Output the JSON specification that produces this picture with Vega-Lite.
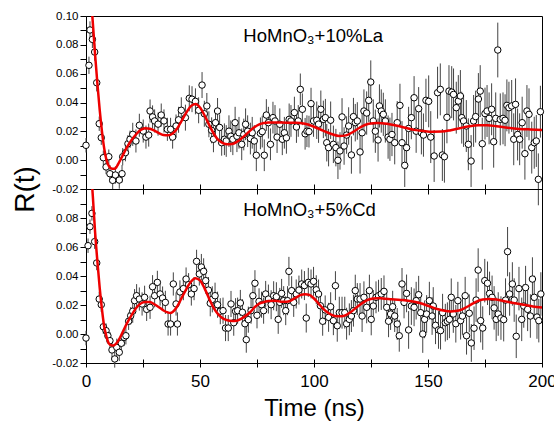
{
  "$schema": "https://vega.github.io/schema/vega-lite/v6.json",
  "padding": {"left": 11, "top": 9, "right": 0, "bottom": 0},
  "background": "white",
  "config": {
    "view": {"stroke": "black", "strokeWidth": 1},
    "font": "Liberation Sans",
    "axis": {
      "labelFont": "Liberation Sans", "titleFont": "Liberation Sans",
      "labelColor": "black", "titleColor": "black", "titleFontWeight": "normal",
      "domainColor": "black", "tickColor": "black", "grid": false,
      "labelFlush": false, "labelOverlap": false
    }
  },
  "datasets": {
    "top": [
      {"t":0,"v":0.0103,"e":0.005},{"t":1.3,"v":0.0658,"e":0.006},{"t":1.75,"v":0.0903,"e":0.006},{"t":2.8,"v":0.0838,"e":0.006},{"t":3.8,"v":0.075,"e":0.006},{"t":4.7,"v":0.0537,"e":0.006},{"t":5.8,"v":0.0253,"e":0.005},{"t":6.7,"v":0.0156,"e":0.005},{"t":7.6,"v":0.0017,"e":0.005},{"t":8.8,"v":-0.0047,"e":0.005},{"t":10,"v":0.0024,"e":0.005},{"t":10.5,"v":-0.0094,"e":0.006},{"t":11.7,"v":-0.014,"e":0.006},{"t":12.9,"v":-0.0103,"e":0.006},{"t":14.6,"v":-0.0138,"e":0.006},{"t":15.8,"v":-0.0094,"e":0.006},{"t":16.1,"v":0.0024,"e":0.006},{"t":17.3,"v":0.0052,"e":0.006},{"t":18.4,"v":0.0114,"e":0.006},{"t":19.3,"v":0.0145,"e":0.006},
      {"t":20.5,"v":0.0179,"e":0.008},{"t":21.9,"v":0.0133,"e":0.008},{"t":23.4,"v":0.0242,"e":0.008},{"t":25.1,"v":0.0202,"e":0.008},{"t":26.3,"v":0.016,"e":0.008},{"t":27.5,"v":0.0174,"e":0.008},{"t":28.1,"v":0.0341,"e":0.008},{"t":29.2,"v":0.03,"e":0.008},{"t":30.1,"v":0.0272,"e":0.008},{"t":31.6,"v":0.025,"e":0.008},{"t":33.0,"v":0.0313,"e":0.008},{"t":34.2,"v":0.0272,"e":0.008},{"t":35.7,"v":0.0214,"e":0.008},{"t":37.1,"v":0.0214,"e":0.008},{"t":38.0,"v":0.016,"e":0.008},{"t":39.5,"v":0.0237,"e":0.008},
      {"t":40.6,"v":0.028,"e":0.009},{"t":41.8,"v":0.0346,"e":0.009},{"t":43.6,"v":0.0295,"e":0.009},{"t":45.3,"v":0.0429,"e":0.009},{"t":46.5,"v":0.0423,"e":0.009},{"t":48,"v":0.0408,"e":0.009},{"t":49.4,"v":0.0346,"e":0.009},{"t":50.9,"v":0.0521,"e":0.009},{"t":51.9,"v":0.0322,"e":0.009},{"t":53,"v":0.0376,"e":0.009},{"t":53.9,"v":0.0249,"e":0.009},{"t":55.1,"v":0.0207,"e":0.009},{"t":55.9,"v":0.0145,"e":0.009},{"t":56.8,"v":0.026,"e":0.009},{"t":57.7,"v":0.0341,"e":0.009},{"t":58.6,"v":0.0227,"e":0.009},{"t":59.5,"v":0.0121,"e":0.009},
      {"t":60.7,"v":0.0145,"e":0.011},{"t":61.5,"v":0.0133,"e":0.011},{"t":62.7,"v":0.0201,"e":0.011},{"t":63.5,"v":0.0166,"e":0.011},{"t":64.4,"v":0.0145,"e":0.011},{"t":65.4,"v":0.026,"e":0.011},{"t":66.2,"v":0.0166,"e":0.011},{"t":67.1,"v":0.019,"e":0.011},{"t":68.3,"v":0.011,"e":0.011},{"t":69.2,"v":0.0178,"e":0.011},{"t":70.0,"v":0.0249,"e":0.011},{"t":70.9,"v":0.0201,"e":0.011},{"t":72.1,"v":0.015,"e":0.011},{"t":72.9,"v":0.019,"e":0.011},{"t":73.8,"v":0.0133,"e":0.011},{"t":74.7,"v":0.0034,"e":0.011},{"t":76.5,"v":0.0186,"e":0.011},{"t":77.3,"v":0.0198,"e":0.011},{"t":78.2,"v":0.0034,"e":0.011},{"t":79.1,"v":0.0313,"e":0.011},
      {"t":80,"v":0.026,"e":0.011},{"t":80.9,"v":0.011,"e":0.011},{"t":82,"v":0.0295,"e":0.011},{"t":82.9,"v":0.0272,"e":0.011},{"t":83.8,"v":0.016,"e":0.011},{"t":85,"v":0.0249,"e":0.011},{"t":86.1,"v":0.0145,"e":0.011},{"t":87.0,"v":0.019,"e":0.011},{"t":87.9,"v":0.0155,"e":0.011},{"t":89.1,"v":0.0283,"e":0.011},{"t":89.9,"v":0.0272,"e":0.011},{"t":91.4,"v":0.033,"e":0.011},{"t":92.3,"v":0.023,"e":0.011},{"t":93.1,"v":0.0272,"e":0.011},{"t":94.0,"v":0.0491,"e":0.011},{"t":94.9,"v":0.0353,"e":0.011},{"t":96.1,"v":0.0183,"e":0.011},{"t":96.9,"v":0.0201,"e":0.011},{"t":97.8,"v":0.0198,"e":0.011},{"t":98.7,"v":0.0392,"e":0.011},{"t":99.8,"v":0.0272,"e":0.011},
      {"t":101.2,"v":0.0277,"e":0.013},{"t":102.0,"v":0.025,"e":0.013},{"t":103.0,"v":0.0353,"e":0.013},{"t":104.1,"v":0.0283,"e":0.013},{"t":105.0,"v":0.0295,"e":0.013},{"t":105.6,"v":0.0121,"e":0.013},{"t":106.4,"v":0.0087,"e":0.013},{"t":107.3,"v":0.0277,"e":0.013},{"t":108.5,"v":0.011,"e":0.013},{"t":109.6,"v":0.0087,"e":0.013},{"t":110.5,"v":-0.0001,"e":0.013},{"t":111.4,"v":0.0064,"e":0.013},{"t":112.3,"v":0.03,"e":0.013},{"t":113.2,"v":0.0098,"e":0.013},{"t":114.3,"v":0.0174,"e":0.013},{"t":115.2,"v":0.0237,"e":0.013},{"t":116.4,"v":0.0036,"e":0.013},{"t":117.3,"v":0.0302,"e":0.013},{"t":118.1,"v":0.026,"e":0.013},{"t":119.0,"v":0.0272,"e":0.013},
      {"t":120.2,"v":0.0057,"e":0.015},{"t":121.1,"v":0.019,"e":0.015},{"t":121.9,"v":0.0341,"e":0.015},{"t":123.1,"v":0.0327,"e":0.015},{"t":124.0,"v":0.0415,"e":0.015},{"t":124.9,"v":0.0542,"e":0.015},{"t":126.0,"v":0.0272,"e":0.015},{"t":126.9,"v":0.0201,"e":0.015},{"t":128.1,"v":0.014,"e":0.015},{"t":128.7,"v":0.0376,"e":0.015},{"t":129.5,"v":0.0341,"e":0.015},{"t":130.4,"v":0.0318,"e":0.015},{"t":131.3,"v":0.0272,"e":0.015},{"t":132.5,"v":0.016,"e":0.015},{"t":133.3,"v":0.0145,"e":0.015},{"t":134.2,"v":0.0178,"e":0.015},{"t":135.4,"v":0.0121,"e":0.015},{"t":136.5,"v":0.026,"e":0.015},{"t":137.7,"v":0.038,"e":0.015},{"t":138.6,"v":0.0121,"e":0.015},
      {"t":139.8,"v":-0.0036,"e":0.015},{"t":140.6,"v":0.0087,"e":0.015},{"t":141.5,"v":0.022,"e":0.015},{"t":142.7,"v":0.0295,"e":0.015},{"t":143.9,"v":0.0433,"e":0.015},{"t":144.8,"v":0.0201,"e":0.015},{"t":145.9,"v":0.0357,"e":0.015},{"t":147.1,"v":0.019,"e":0.015},{"t":148.0,"v":0.0174,"e":0.015},{"t":149.1,"v":0.0415,"e":0.015},
      {"t":150.3,"v":0.0408,"e":0.018},{"t":151.2,"v":0.016,"e":0.018},{"t":152.7,"v":0.0029,"e":0.018},{"t":154.2,"v":0.0468,"e":0.018},{"t":155.4,"v":0.0491,"e":0.018},{"t":156.3,"v":0.0036,"e":0.018},{"t":157.2,"v":0.0024,"e":0.018},{"t":158.3,"v":0.0297,"e":0.018},{"t":159.2,"v":0.0479,"e":0.018},{"t":160.4,"v":0.0472,"e":0.018},{"t":161.2,"v":0.0456,"e":0.018},{"t":162.4,"v":0.0364,"e":0.018},{"t":163.3,"v":0.041,"e":0.018},{"t":164.2,"v":0.0445,"e":0.018},{"t":164.8,"v":0.0295,"e":0.018},{"t":165.6,"v":0.0272,"e":0.018},{"t":166.8,"v":0.0237,"e":0.018},{"t":167.7,"v":0.011,"e":0.018},{"t":168.9,"v":-0.0006,"e":0.018},{"t":170.0,"v":0.0272,"e":0.018},
      {"t":170.9,"v":0.0302,"e":0.018},{"t":172.1,"v":0.0424,"e":0.018},{"t":172.9,"v":0.0479,"e":0.018},{"t":173.8,"v":0.0114,"e":0.018},{"t":175.0,"v":0.0323,"e":0.018},{"t":175.9,"v":0.0341,"e":0.018},{"t":176.8,"v":0.029,"e":0.018},{"t":177.9,"v":0.0353,"e":0.018},{"t":178.8,"v":0.0128,"e":0.018},{"t":179.7,"v":0.029,"e":0.018},{"t":180.6,"v":0.0764,"e":0.019},{"t":181.7,"v":0.0283,"e":0.018},{"t":182.9,"v":0.029,"e":0.018},{"t":183.8,"v":0.0277,"e":0.018},{"t":184.6,"v":0.038,"e":0.018},{"t":185.5,"v":0.0364,"e":0.018},{"t":186.7,"v":0.0376,"e":0.018},{"t":187.6,"v":0.0145,"e":0.018},{"t":188.4,"v":0.0387,"e":0.018},{"t":189.3,"v":0.0178,"e":0.018},
      {"t":190.2,"v":0.0145,"e":0.018},{"t":191.3,"v":0.026,"e":0.018},{"t":192.5,"v":0.0045,"e":0.018},{"t":193.4,"v":0.0341,"e":0.018},{"t":194.3,"v":0.0318,"e":0.018},{"t":195.5,"v":0.0087,"e":0.018},{"t":196.6,"v":0.0121,"e":0.018},{"t":197.5,"v":0.0133,"e":0.018},{"t":198.4,"v":-0.0133,"e":0.018},{"t":199.3,"v":0.0336,"e":0.018}
    ],
    "topfit": [
      {"t":0,"v":0.17},{"t":1,"v":0.145},{"t":2,"v":0.118},{"t":3,"v":0.095},{"t":4,"v":0.073},{"t":5,"v":0.053},{"t":6,"v":0.035},{"t":7,"v":0.02},{"t":8,"v":0.008},{"t":9,"v":0.0},{"t":10,"v":-0.004},{"t":11,"v":-0.0057},{"t":12,"v":-0.006},{"t":13,"v":-0.0055},{"t":14,"v":-0.003},{"t":16,"v":0.003},{"t":18,"v":0.009},{"t":20,"v":0.014},{"t":22,"v":0.018},{"t":24,"v":0.021},{"t":26,"v":0.0222},{"t":28,"v":0.0218},{"t":30,"v":0.0205},{"t":32,"v":0.0188},{"t":34,"v":0.0175},{"t":36,"v":0.0172},{"t":38,"v":0.0185},{"t":40,"v":0.022},{"t":42,"v":0.0275},{"t":44,"v":0.033},{"t":46,"v":0.0375},{"t":48,"v":0.039},{"t":50,"v":0.0365},{"t":52,"v":0.031},{"t":54,"v":0.0245},{"t":56,"v":0.0185},{"t":58,"v":0.014},{"t":60,"v":0.0118},{"t":62,"v":0.011},{"t":64,"v":0.0112},{"t":66,"v":0.0125},{"t":68,"v":0.0148},{"t":70,"v":0.0175},{"t":72,"v":0.0205},{"t":74,"v":0.023},{"t":76,"v":0.0248},{"t":78,"v":0.0258},{"t":80,"v":0.0262},{"t":84,"v":0.0262},{"t":88,"v":0.026},{"t":92,"v":0.026},{"t":96,"v":0.0252},{"t":100,"v":0.0232},{"t":104,"v":0.0205},{"t":108,"v":0.018},{"t":111,"v":0.0168},{"t":114,"v":0.0172},{"t":117,"v":0.0195},{"t":120,"v":0.0225},{"t":124,"v":0.0252},{"t":128,"v":0.0258},{"t":132,"v":0.0252},{"t":136,"v":0.024},{"t":140,"v":0.0225},{"t":144,"v":0.021},{"t":148,"v":0.0202},{"t":152,"v":0.0197},{"t":156,"v":0.0198},{"t":160,"v":0.0208},{"t":164,"v":0.0222},{"t":168,"v":0.0235},{"t":172,"v":0.0242},{"t":176,"v":0.0242},{"t":180,"v":0.0236},{"t":185,"v":0.0225},{"t":190,"v":0.0217},{"t":195,"v":0.0213},{"t":200,"v":0.021}
    ],
    "bot": [
      {"t":0,"v":-0.0028,"e":0.005},{"t":0.9,"v":0.0609,"e":0.005},{"t":1.75,"v":0.074,"e":0.005},{"t":2.6,"v":0.0832,"e":0.005},{"t":3.8,"v":0.0637,"e":0.005},{"t":4.7,"v":0.049,"e":0.005},{"t":5.8,"v":0.0241,"e":0.005},{"t":6.7,"v":0.0202,"e":0.005},{"t":7.6,"v":0.005,"e":0.005},{"t":8.8,"v":0.0023,"e":0.005},{"t":9.6,"v":-0.0012,"e":0.005},{"t":10.5,"v":-0.0046,"e":0.006},{"t":11.4,"v":-0.011,"e":0.006},{"t":12.6,"v":-0.0172,"e":0.006},{"t":13.5,"v":-0.0092,"e":0.006},{"t":14.6,"v":-0.0126,"e":0.006},{"t":15.5,"v":-0.0064,"e":0.006},{"t":16.7,"v":-0.0023,"e":0.006},{"t":17.5,"v":-0.0012,"e":0.006},{"t":18.7,"v":0.0088,"e":0.006},{"t":19.6,"v":0.0126,"e":0.006},
      {"t":20.5,"v":0.0157,"e":0.008},{"t":21.3,"v":0.023,"e":0.008},{"t":22.2,"v":0.0264,"e":0.008},{"t":23.4,"v":0.0241,"e":0.008},{"t":24.6,"v":0.0207,"e":0.008},{"t":25.7,"v":0.0253,"e":0.008},{"t":26.6,"v":0.017,"e":0.008},{"t":28.1,"v":0.0184,"e":0.008},{"t":29.2,"v":0.0326,"e":0.008},{"t":30.1,"v":0.0264,"e":0.008},{"t":31.3,"v":0.0356,"e":0.008},{"t":32.5,"v":0.0276,"e":0.008},{"t":33.6,"v":0.0248,"e":0.008},{"t":34.8,"v":0.0218,"e":0.008},{"t":36.0,"v":0.0069,"e":0.008},{"t":37.1,"v":0.0069,"e":0.008},{"t":38.3,"v":0.0345,"e":0.008},{"t":39.5,"v":0.0207,"e":0.008},{"t":40.1,"v":0.0069,"e":0.008},{"t":41.2,"v":0.029,"e":0.008},
      {"t":42.7,"v":0.0313,"e":0.008},{"t":43.9,"v":0.0379,"e":0.008},{"t":45,"v":0.034,"e":0.008},{"t":46.2,"v":0.0276,"e":0.008},{"t":47.4,"v":0.0313,"e":0.008},{"t":48.5,"v":0.0501,"e":0.008},{"t":49.7,"v":0.0414,"e":0.008},{"t":50.6,"v":0.0462,"e":0.009},{"t":51.6,"v":0.0432,"e":0.009},{"t":52.5,"v":0.0368,"e":0.009},{"t":53.7,"v":0.0303,"e":0.009},{"t":54.5,"v":0.0212,"e":0.009},{"t":55.4,"v":0.0239,"e":0.009},{"t":56.6,"v":0.0264,"e":0.009},{"t":57.7,"v":0.0202,"e":0.009},{"t":58.9,"v":0.0157,"e":0.009},{"t":60.1,"v":0.0161,"e":0.009},{"t":61.2,"v":0.0041,"e":0.009},{"t":62.4,"v":0.0041,"e":0.009},{"t":63.6,"v":0.0207,"e":0.009},
      {"t":64.8,"v":0.0078,"e":0.009},{"t":65.6,"v":0.0157,"e":0.009},{"t":66.5,"v":0.0161,"e":0.009},{"t":67.7,"v":0.0214,"e":0.009},{"t":68.6,"v":0.015,"e":0.009},{"t":69.7,"v":0.0071,"e":0.009},{"t":70.3,"v":-0.0039,"e":0.009},{"t":71.2,"v":0.0099,"e":0.009},{"t":72.4,"v":0.0161,"e":0.009},{"t":73.2,"v":0.0264,"e":0.009},{"t":74.1,"v":0.035,"e":0.009},{"t":75.0,"v":0.0129,"e":0.009},{"t":75.9,"v":0.0225,"e":0.009},{"t":77.0,"v":0.0202,"e":0.009},{"t":77.9,"v":0.0161,"e":0.009},{"t":78.8,"v":0.0276,"e":0.009},
      {"t":80.0,"v":0.0241,"e":0.01},{"t":81.2,"v":0.0202,"e":0.01},{"t":82.3,"v":0.0264,"e":0.01},{"t":83.5,"v":0.0257,"e":0.01},{"t":84.3,"v":0.0101,"e":0.01},{"t":85.0,"v":0.0218,"e":0.01},{"t":85.8,"v":0.028,"e":0.01},{"t":86.7,"v":0.023,"e":0.01},{"t":87.6,"v":0.0161,"e":0.01},{"t":88.4,"v":0.023,"e":0.01},{"t":89.0,"v":0.0432,"e":0.01},{"t":90.2,"v":0.0299,"e":0.01},{"t":91.1,"v":0.0218,"e":0.01},{"t":92.2,"v":0.0276,"e":0.01},{"t":93.4,"v":0.0303,"e":0.01},{"t":94.6,"v":0.0345,"e":0.01},{"t":95.8,"v":0.0334,"e":0.01},{"t":96.6,"v":0.011,"e":0.01},{"t":97.5,"v":0.0356,"e":0.01},{"t":98.7,"v":0.0345,"e":0.01},{"t":99.8,"v":0.0363,"e":0.01},
      {"t":101,"v":0.0305,"e":0.01},{"t":102.0,"v":0.0276,"e":0.01},{"t":102.8,"v":0.0195,"e":0.01},{"t":103.8,"v":0.0088,"e":0.01},{"t":104.9,"v":0.0166,"e":0.01},{"t":106.4,"v":0.0115,"e":0.01},{"t":107.3,"v":0.0188,"e":0.01},{"t":108.5,"v":0.0092,"e":0.01},{"t":109.4,"v":0.0333,"e":0.01},{"t":110.2,"v":0.0057,"e":0.011},{"t":111.1,"v":0.0147,"e":0.011},{"t":112.3,"v":0.0147,"e":0.011},{"t":113.5,"v":0.0147,"e":0.011},{"t":114.3,"v":0.0071,"e":0.011},{"t":115.5,"v":0.0101,"e":0.011},{"t":116.4,"v":0.0124,"e":0.011},{"t":117.3,"v":0.0161,"e":0.011},{"t":118.1,"v":0.0299,"e":0.011},{"t":119.0,"v":0.0241,"e":0.011},{"t":120.2,"v":0.0241,"e":0.011},
      {"t":121.1,"v":0.0124,"e":0.011},{"t":121.9,"v":0.0253,"e":0.011},{"t":123.1,"v":0.0184,"e":0.011},{"t":124.3,"v":0.0299,"e":0.011},{"t":125.1,"v":0.0101,"e":0.011},{"t":126.0,"v":0.0193,"e":0.011},{"t":127.2,"v":0.0253,"e":0.011},{"t":128.3,"v":0.0264,"e":0.011},{"t":129.5,"v":0.0276,"e":0.011},{"t":130.7,"v":0.0294,"e":0.011},{"t":131.9,"v":0.0184,"e":0.011},{"t":132.7,"v":0.0088,"e":0.011},{"t":133.6,"v":0.0138,"e":0.011},{"t":134.5,"v":0.0188,"e":0.011},{"t":135.4,"v":0.0124,"e":0.011},{"t":136.5,"v":0.0069,"e":0.011},{"t":137.4,"v":-0.0012,"e":0.011},{"t":138.6,"v":0.0345,"e":0.011},{"t":139.5,"v":0.0218,"e":0.011},
      {"t":140.6,"v":0.028,"e":0.013},{"t":141.5,"v":0.0028,"e":0.013},{"t":142.7,"v":0.0193,"e":0.013},{"t":143.9,"v":0.0184,"e":0.013},{"t":144.8,"v":0.023,"e":0.013},{"t":145.9,"v":0.0271,"e":0.013},{"t":146.8,"v":0.0147,"e":0.013},{"t":147.7,"v":0.0,"e":0.013},{"t":148.5,"v":0.0101,"e":0.013},{"t":149.4,"v":0.0138,"e":0.013},{"t":150.6,"v":0.023,"e":0.013},{"t":151.8,"v":0.0124,"e":0.013},{"t":152.3,"v":0.0193,"e":0.013},{"t":153.3,"v":0.006,"e":0.013},{"t":154.6,"v":0.0028,"e":0.013},{"t":155.5,"v":0.0023,"e":0.013},{"t":156.4,"v":0.0147,"e":0.013},{"t":157.6,"v":0.0078,"e":0.013},{"t":158.5,"v":0.0088,"e":0.013},{"t":159.4,"v":0.0101,"e":0.013},
      {"t":160.2,"v":0.0253,"e":0.013},{"t":161.1,"v":0.0138,"e":0.013},{"t":162.2,"v":0.0071,"e":0.013},{"t":163.1,"v":0.023,"e":0.013},{"t":164.3,"v":0.0092,"e":0.013},{"t":165.1,"v":0.0124,"e":0.013},{"t":166.3,"v":0.0264,"e":0.013},{"t":166.9,"v":-0.0012,"e":0.013},{"t":168.1,"v":0.0143,"e":0.013},{"t":169.0,"v":-0.0062,"e":0.013},
      {"t":170.2,"v":0.004,"e":0.015},{"t":171.1,"v":0.0234,"e":0.015},{"t":172.0,"v":0.0441,"e":0.015},{"t":173.1,"v":0.0092,"e":0.015},{"t":174.0,"v":0.0041,"e":0.015},{"t":174.9,"v":0.0368,"e":0.015},{"t":176.1,"v":0.035,"e":0.015},{"t":177.0,"v":0.028,"e":0.015},{"t":178.1,"v":0.0253,"e":0.015},{"t":179.0,"v":0.018,"e":0.015},{"t":179.9,"v":0.0101,"e":0.015},{"t":180.8,"v":0.0138,"e":0.015},{"t":182.0,"v":0.011,"e":0.015},{"t":183.2,"v":0.0099,"e":0.015},{"t":184.0,"v":0.0234,"e":0.015},{"t":184.9,"v":0.0568,"e":0.017},{"t":185.8,"v":0.0276,"e":0.015},{"t":187.0,"v":0.0345,"e":0.015},{"t":187.8,"v":0.0234,"e":0.015},{"t":188.7,"v":-0.0016,"e":0.015},
      {"t":189.9,"v":0.0313,"e":0.015},{"t":191.1,"v":0.0101,"e":0.015},{"t":192.0,"v":0.0193,"e":0.015},{"t":192.8,"v":0.032,"e":0.015},{"t":193.7,"v":0.017,"e":0.015},{"t":194.9,"v":0.0124,"e":0.015},{"t":195.8,"v":0.0379,"e":0.015},{"t":196.6,"v":0.0253,"e":0.015},{"t":197.8,"v":0.0117,"e":0.015},{"t":198.6,"v":0.0092,"e":0.015},{"t":199.5,"v":0.0276,"e":0.015}
    ],
    "botfit": [
      {"t":0,"v":0.17},{"t":1,"v":0.145},{"t":2,"v":0.118},{"t":3,"v":0.095},{"t":4,"v":0.07},{"t":5,"v":0.05},{"t":6,"v":0.032},{"t":7,"v":0.017},{"t":8,"v":0.005},{"t":9,"v":-0.002},{"t":10,"v":-0.0065},{"t":11,"v":-0.0078},{"t":12,"v":-0.008},{"t":13,"v":-0.007},{"t":14,"v":-0.005},{"t":16,"v":0.001},{"t":18,"v":0.0075},{"t":20,"v":0.013},{"t":22,"v":0.018},{"t":24,"v":0.021},{"t":26,"v":0.022},{"t":28,"v":0.022},{"t":30,"v":0.0205},{"t":32,"v":0.0185},{"t":34,"v":0.0162},{"t":36,"v":0.0148},{"t":37,"v":0.0145},{"t":38,"v":0.0152},{"t":40,"v":0.019},{"t":42,"v":0.025},{"t":44,"v":0.031},{"t":46,"v":0.036},{"t":48,"v":0.0385},{"t":50,"v":0.037},{"t":52,"v":0.0315},{"t":54,"v":0.0245},{"t":56,"v":0.018},{"t":58,"v":0.0135},{"t":60,"v":0.0108},{"t":62,"v":0.0095},{"t":64,"v":0.009},{"t":66,"v":0.0092},{"t":68,"v":0.0105},{"t":70,"v":0.0125},{"t":72,"v":0.015},{"t":74,"v":0.0185},{"t":76,"v":0.021},{"t":78,"v":0.022},{"t":80,"v":0.0228},{"t":82,"v":0.023},{"t":84,"v":0.0228},{"t":86,"v":0.0222},{"t":88,"v":0.0222},{"t":90,"v":0.0232},{"t":92,"v":0.025},{"t":94,"v":0.0268},{"t":96,"v":0.0275},{"t":98,"v":0.027},{"t":100,"v":0.0245},{"t":102,"v":0.021},{"t":104,"v":0.0175},{"t":106,"v":0.0148},{"t":108,"v":0.013},{"t":110,"v":0.0122},{"t":112,"v":0.0122},{"t":114,"v":0.013},{"t":116,"v":0.015},{"t":118,"v":0.0175},{"t":120,"v":0.02},{"t":122,"v":0.0222},{"t":124,"v":0.0238},{"t":126,"v":0.0245},{"t":128,"v":0.0247},{"t":130,"v":0.0245},{"t":134,"v":0.024},{"t":138,"v":0.0235},{"t":142,"v":0.0228},{"t":146,"v":0.0215},{"t":150,"v":0.0195},{"t":154,"v":0.0172},{"t":158,"v":0.0158},{"t":160,"v":0.0156},{"t":162,"v":0.0158},{"t":165,"v":0.017},{"t":168,"v":0.0195},{"t":171,"v":0.0222},{"t":174,"v":0.0238},{"t":177,"v":0.0242},{"t":180,"v":0.0238},{"t":184,"v":0.0225},{"t":188,"v":0.0212},{"t":192,"v":0.0202},{"t":196,"v":0.019},{"t":200,"v":0.0182}
    ]
  },
  "vconcat": [
    {
      "width": 456,
      "height": 173,
      "encoding": {
        "x": {"field": "t", "type": "quantitative", "scale": {"domain": [0, 200], "nice": false, "zero": false},
              "axis": {"values": [0,25,50,75,100,125,150,175,200], "labels": false, "domain": false, "tickSize": 10, "offset": -5, "title": null}},
        "y": {"field": "v", "type": "quantitative", "scale": {"domain": [-0.02, 0.10], "nice": false, "zero": false},
              "axis": {"values": [-0.02,-0.01,0,0.01,0.02,0.03,0.04,0.05,0.06,0.07,0.08,0.09,0.10],
                       "labelExpr": "round(datum.value*100) % 2 == 0 ? replace(format(datum.value, '.2f'), '\u2212', '-') : ''",
                       "labelFontSize": 11.5, "tickSize": 6, "labelPadding": 2,
                       "title": "R(t)", "titleFontSize": 28, "titleY": 173, "titlePadding": 12}}
      },
      "layer": [
        {"data": {"name": "top"}, "mark": {"type": "errorbar", "color": "#444444", "thickness": 1},
         "encoding": {"yError": {"field": "e"}}},
        {"data": {"name": "top"}, "mark": {"type": "point", "shape": "circle", "filled": true, "fill": "white", "stroke": "black", "strokeWidth": 1, "size": 42, "opacity": 1}},
        {"data": {"name": "topfit"}, "mark": {"type": "line", "color": "#ee0000", "strokeWidth": 2.5, "interpolate": "monotone", "clip": true}},
        {"data": {"values": [{"t": 69, "v": 0.0858, "label": "HoMnO\u2083+10%La"}]},
         "mark": {"type": "text", "align": "left", "baseline": "middle", "fontSize": 18.5, "font": "Liberation Sans", "color": "black"},
         "encoding": {"text": {"field": "label"}}}
      ]
    },
    {
      "width": 456,
      "height": 174,
      "encoding": {
        "x": {"field": "t", "type": "quantitative", "scale": {"domain": [0, 200], "nice": false, "zero": false},
              "axis": {"values": [0,25,50,75,100,125,150,175,200],
                       "labelExpr": "datum.value % 50 == 0 ? datum.label : ''",
                       "domain": false, "tickSize": 8, "offset": -4, "labelPadding": 6, "labelFontSize": 17,
                       "title": "Time (ns)", "titleFontSize": 24, "titlePadding": 7}},
        "y": {"field": "v", "type": "quantitative", "scale": {"domain": [-0.02, 0.10], "nice": false, "zero": false},
              "axis": {"values": [-0.02,-0.01,0,0.01,0.02,0.03,0.04,0.05,0.06,0.07,0.08,0.09,0.10],
                       "labelExpr": "(round(datum.value*100) % 2 == 0 && datum.value < 0.09) ? replace(format(datum.value, '.2f'), '\u2212', '-') : ''",
                       "labelFontSize": 11.5, "tickSize": 6, "labelPadding": 2, "title": null}}
      },
      "layer": [
        {"data": {"name": "bot"}, "mark": {"type": "errorbar", "color": "#444444", "thickness": 1},
         "encoding": {"yError": {"field": "e"}}},
        {"data": {"name": "bot"}, "mark": {"type": "point", "shape": "circle", "filled": true, "fill": "white", "stroke": "black", "strokeWidth": 1, "size": 42, "opacity": 1}},
        {"data": {"name": "botfit"}, "mark": {"type": "line", "color": "#ee0000", "strokeWidth": 2.5, "interpolate": "monotone", "clip": true}},
        {"data": {"values": [{"t": 69, "v": 0.0852, "label": "HoMnO\u2083+5%Cd"}]},
         "mark": {"type": "text", "align": "left", "baseline": "middle", "fontSize": 18.5, "font": "Liberation Sans", "color": "black"},
         "encoding": {"text": {"field": "label"}}}
      ]
    }
  ],
  "spacing": 0,
  "bounds": "flush"
}
